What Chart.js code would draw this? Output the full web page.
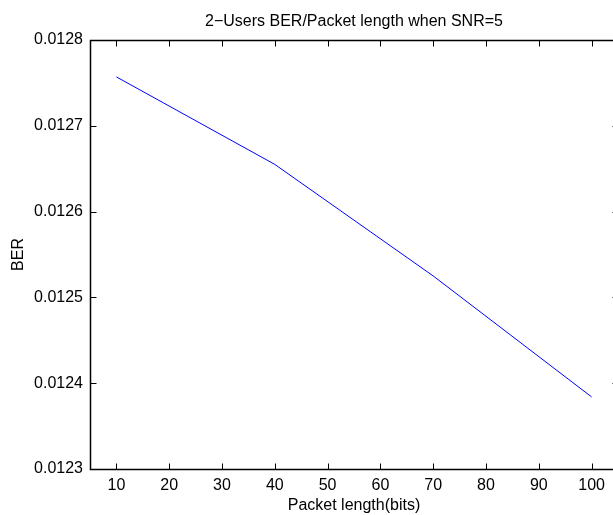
<!DOCTYPE html>
<html>
<head>
<meta charset="utf-8">
<title>BER / Packet length</title>
<script src="https://cdn.jsdelivr.net/npm/chart.js"></script>
<style>
	html, body { margin: 0; padding: 0; background: #fff; overflow: hidden; }
	#caja { width: 613px; height: 515px; overflow: hidden; }
	#grafico { display: block; }
</style>
</head>
<body>
<div id="caja"><canvas id="grafico" width="625" height="515"></canvas></div>
<script>
var packetLength = [10, 40, 70, 100];
var ber = [0.012757, 0.012655, 0.012525, 0.012384];
var xTicks = [10, 20, 30, 40, 50, 60, 70, 80, 90, 100];
var yTicks = [0.0123, 0.0124, 0.0125, 0.0126, 0.0127, 0.0128];

var fuente = '"Liberation Sans", Arial, Helvetica, sans-serif';

// caja estilo matlab con marcas hacia dentro
var cajaPlugin = {
	id: 'caja',
	afterDraw: function(chart){
		var ctx = chart.ctx, a = chart.chartArea;
		var sx = chart.scales.x, sy = chart.scales.y, m = 6;
		var l = Math.round(a.left) + 0.5, r = Math.round(a.right) + 0.5;
		var t = Math.round(a.top) + 0.5, b = Math.round(a.bottom) + 0.5;
		ctx.save();
		ctx.strokeStyle = '#000';
		ctx.lineWidth = 1;
		ctx.beginPath();
		xTicks.forEach(function(v){
			var px = Math.round(sx.getPixelForValue(v)) + 0.5;
			ctx.moveTo(px, b); ctx.lineTo(px, b - m);
			ctx.moveTo(px, t); ctx.lineTo(px, t + m);
		});
		yTicks.forEach(function(v){
			var py = Math.round(sy.getPixelForValue(v)) + 0.5;
			ctx.moveTo(l, py); ctx.lineTo(l + m, py);
			ctx.moveTo(r, py); ctx.lineTo(r - m, py);
		});
		ctx.stroke();
		ctx.lineWidth = 1.5;
		ctx.strokeRect(l, t, r - l, b - t);
		ctx.restore();
	}
};

function BerXPacketLength(){
	var puntos = packetLength.map(function(x, i){ return {x: x, y: ber[i]}; });
	new Chart(document.getElementById('grafico'), {
		type: 'line',
		data: {
			datasets: [{
				data: puntos,
				borderColor: '#0000ff',
				borderWidth: 1,
				pointRadius: 0,
				tension: 0,
				fill: false
			}]
		},
		options: {
			responsive: false,
			animation: false,
			layout: { padding: { left: 0, right: 7, top: 0, bottom: 0 } },
			plugins: {
				legend: { display: false },
				tooltip: { enabled: false },
				title: {
					display: true,
					text: '2\u2212Users BER/Packet length when SNR=5',
					fullSize: false,
					color: '#000',
					font: { family: fuente, size: 16, weight: 'normal' },
					padding: { top: 12, bottom: 8.8 }
				}
			},
			scales: {
				x: {
					type: 'linear',
					min: 5,
					max: 105,
					afterBuildTicks: function(s){ s.ticks = xTicks.map(function(v){ return {value: v}; }); },
					afterFit: function(s){ s.height = 46; },
					grid: { display: false, drawTicks: false },
					border: { display: false },
					ticks: {
						color: '#000',
						padding: 7,
						maxRotation: 0,
						font: { family: fuente, size: 16 }
					},
					title: {
						display: true,
						text: 'Packet length(bits)',
						color: '#000',
						font: { family: fuente, size: 16 },
						padding: { top: 0, bottom: 0 }
					}
				},
				y: {
					min: 0.0123,
					max: 0.0128,
					afterBuildTicks: function(s){ s.ticks = yTicks.map(function(v){ return {value: v}; }); },
					afterFit: function(s){ s.width = 90; },
					grid: { display: false, drawTicks: false },
					border: { display: false },
					ticks: {
						color: '#000',
						padding: 7,
						font: { family: fuente, size: 16 },
						callback: function(v){ return v.toFixed(4); }
					},
					title: {
						display: true,
						text: 'BER',
						color: '#000',
						font: { family: fuente, size: 16 },
						padding: { top: 9, bottom: 0 }
					}
				}
			}
		},
		plugins: [cajaPlugin]
	});
}

BerXPacketLength();
</script>
</body>
</html>
